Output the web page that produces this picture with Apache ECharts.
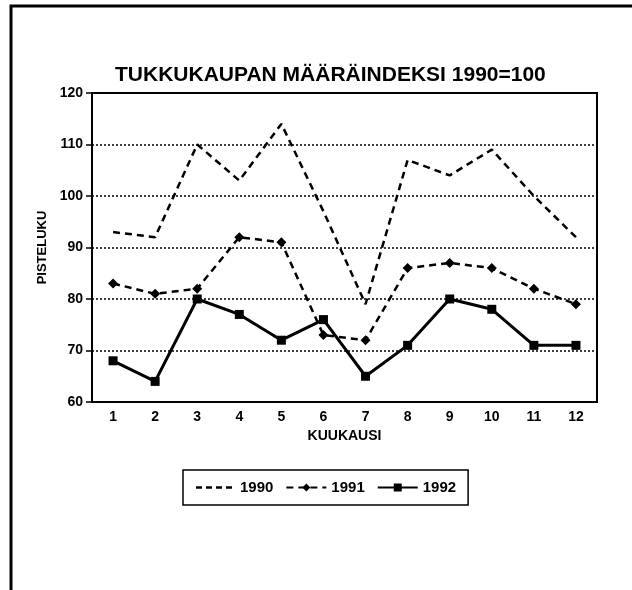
<!DOCTYPE html>
<html>
<head>
<meta charset="utf-8">
<script src="https://cdn.jsdelivr.net/npm/echarts@6/dist/echarts.min.js"></script>
<style>
html,body{margin:0;padding:0;background:#fff;}
#chart{width:632px;height:590px;}
</style>
</head>
<body>
<div id="chart"></div>
<script>
const months = ['1','2','3','4','5','6','7','8','9','10','11','12'];
const s1990 = [93, 92, 110, 103, 114, 97, 79, 107, 104, 109, 100, 92];
const s1991 = [83, 81, 82, 92, 91, 73, 72, 86, 87, 86, 82, 79];
const s1992 = [68, 64, 80, 77, 72, 76, 65, 71, 80, 78, 71, 71];
const yTicks = [60, 70, 80, 90, 100, 110, 120];

const FONT = '"Liberation Sans", Arial, sans-serif';
const dashIcon = 'path://M0,0h0.01v10h-0.01z M1,3.8h6v2.4h-6z M11,3.8h6v2.4h-6z M21,3.8h6v2.4h-6z M31,3.8h6v2.4h-6z M39.99,0h0.01v10h-0.01z';
const chart = echarts.init(document.getElementById('chart'));
chart.setOption({
  backgroundColor: '#fff',
  animation: false,
  graphic: [{
    type: 'rect',
    shape: { x: 11, y: 6, width: 660, height: 640 },
    style: { fill: 'none', stroke: '#000', lineWidth: 3 },
    silent: true
  }],
  title: {
    text: 'TUKKUKAUPAN MÄÄRÄINDEKSI 1990=100',
    left: 110,
    top: 60,
    textStyle: { fontFamily: FONT, fontWeight: 'bold', fontSize: 21, color: '#000', letterSpacing: -0.5 }
  },
  grid: {
    left: 92, right: 35, top: 93, bottom: 188,
    show: true, borderColor: '#000', borderWidth: 2, backgroundColor: 'transparent'
  },
  legend: {
    left: 183, top: 470,
    orient: 'horizontal',
    borderColor: '#000', borderWidth: 1.5,
    padding: [10, 12],
    itemGap: 12,
    itemWidth: 40, itemHeight: 10,
    textStyle: { fontFamily: FONT, fontWeight: 'bold', fontSize: 15, color: '#000' },
    data: [{ name: '1990', icon: dashIcon }, '1991', '1992']
  },
  xAxis: {
    type: 'category',
    data: months,
    boundaryGap: true,
    name: 'KUUKAUSI',
    nameLocation: 'middle',
    nameGap: 27,
    nameTextStyle: { fontFamily: FONT, fontWeight: 'bold', fontSize: 14, color: '#000' },
    axisLine: { lineStyle: { color: '#000', width: 2 } },
    axisTick: { alignWithLabel: true, length: 5, lineStyle: { color: '#000', width: 1.5 } },
    axisLabel: { fontFamily: FONT, fontWeight: 'bold', fontSize: 14, color: '#000', margin: 8 },
    splitLine: { show: false }
  },
  yAxis: {
    type: 'value',
    min: 60, max: 120, interval: 10,
    name: 'PISTELUKU',
    nameLocation: 'middle',
    nameGap: 42,
    nameRotate: 90,
    nameTextStyle: { fontFamily: FONT, fontWeight: 'bold', fontSize: 13, color: '#000' },
    axisLine: { show: true, lineStyle: { color: '#000', width: 2 } },
    axisTick: { show: true, length: 6, lineStyle: { color: '#000', width: 1.5 } },
    axisLabel: {
      fontFamily: FONT, fontWeight: 'bold', fontSize: 14, color: '#000', margin: 9,
      formatter: v => yTicks.includes(v) ? String(v) : ''
    },
    splitLine: { show: true, lineStyle: { color: '#000', width: 1.5, type: [2, 2] } }
  },
  series: [
    {
      name: '1990', type: 'line', data: s1990,
      symbol: 'none',
      lineStyle: { color: '#000', width: 2.5, type: [7, 5] },
      itemStyle: { color: '#000' }
    },
    {
      name: '1991', type: 'line', data: s1991,
      symbol: 'diamond', symbolSize: 10,
      lineStyle: { color: '#000', width: 2.5, type: [7, 5] },
      itemStyle: { color: '#000' }
    },
    {
      name: '1992', type: 'line', data: s1992,
      symbol: 'rect', symbolSize: 9,
      lineStyle: { color: '#000', width: 3, type: 'solid' },
      itemStyle: { color: '#000' }
    }
  ]
});
</script>
</body>
</html>
